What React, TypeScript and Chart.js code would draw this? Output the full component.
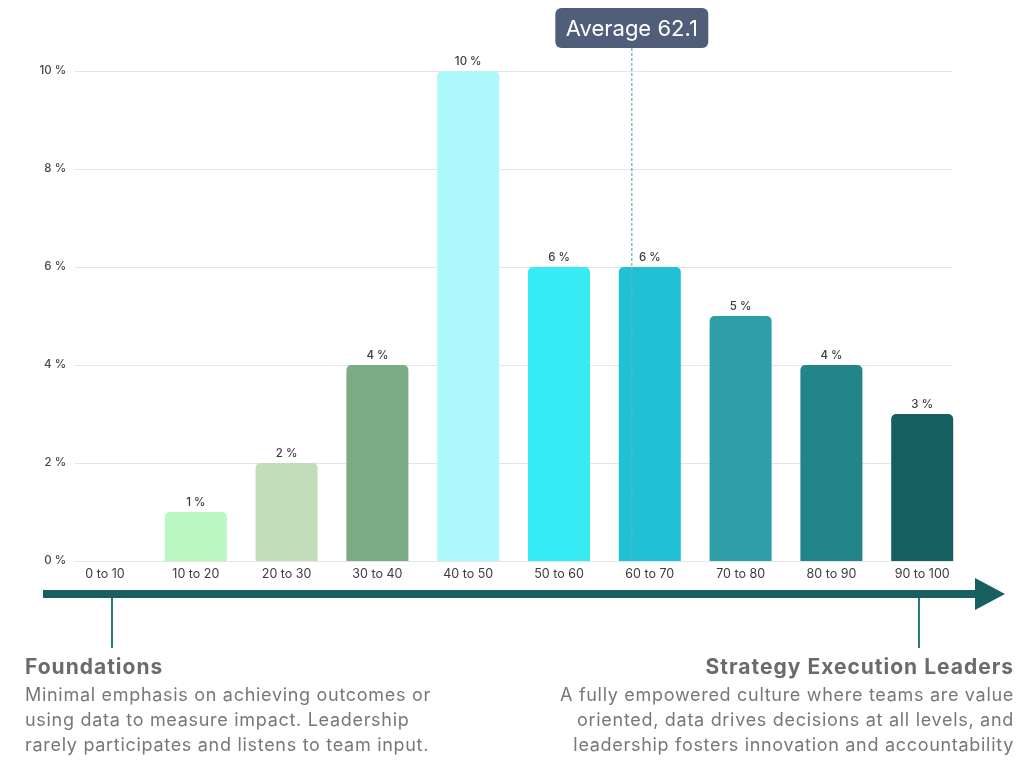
import React, { useEffect, useRef } from "react";
import { Chart, registerables } from "chart.js";

Chart.register(...registerables);

const categories = ["0 to 10", "10 to 20", "20 to 30", "30 to 40", "40 to 50", "50 to 60", "60 to 70", "70 to 80", "80 to 90", "90 to 100"];
const values = [0, 1, 2, 4, 10, 6, 6, 5, 4, 3];
const barColors = ["#b9f7c3", "#b9f7c3", "#bfdeb9", "#7bab83", "#adf8fc", "#37ebf5", "#20c1d4", "#2e9fa8", "#23858a", "#155f61"];
const yTicks = [0, 2, 4, 6, 8, 10];
const averageValue = 62.1;
const averageLabel = "Average 62.1";
const leftTitle = "Foundations";
const leftLines = ["Minimal emphasis on achieving outcomes or", "using data to measure impact. Leadership", "rarely participates and listens to team input."];
const rightTitle = "Strategy Execution Leaders";
const rightLines = ["A fully empowered culture where teams are value", "oriented, data drives decisions at all levels, and", "leadership fosters innovation and accountability"];

const FONT = "Inter, 'Open Sans', sans-serif";

const overlayPlugin = {
  id: "overlay",
  beforeDatasetsDraw(chart: any) {
    const { ctx, chartArea, scales } = chart;
    const y = scales.y;
    ctx.save();
    ctx.strokeStyle = "#e5e5e5";
    ctx.lineWidth = 1;
    yTicks.forEach((v) => {
      const py = Math.round(y.getPixelForValue(v)) + 0.5;
      ctx.beginPath();
      ctx.moveTo(chartArea.left + 15, py);
      ctx.lineTo(chartArea.right - 15, py);
      ctx.stroke();
    });
    ctx.fillStyle = "#474747";
    ctx.font = `500 11.5px ${FONT}`;
    ctx.textAlign = "right";
    ctx.textBaseline = "middle";
    yTicks.forEach((v) => {
      ctx.fillText(`${v} %`, chartArea.left + 6.5, y.getPixelForValue(v));
    });
    ctx.restore();
  },
  afterDatasetsDraw(chart: any) {
    const { ctx, chartArea, scales } = chart;
    const x = scales.x;
    const y = scales.y;
    const meta = chart.getDatasetMeta(0);
    ctx.save();
    // value labels
    ctx.fillStyle = "#3c3c3c";
    ctx.font = `500 11.5px ${FONT}`;
    ctx.textAlign = "center";
    ctx.textBaseline = "middle";
    meta.data.forEach((bar: any, i: number) => {
      if (values[i] <= 0) return;
      const p = bar.getProps(["x", "y"], true);
      ctx.fillText(`${values[i]} %`, p.x, p.y - 9);
    });
    // x labels
    ctx.fillStyle = "#3c3c3c";
    ctx.font = `400 12.5px ${FONT}`;
    categories.forEach((c, i) => {
      ctx.fillText(c, x.getPixelForValue(i), chartArea.bottom + 13);
    });
    // average line
    const idx = Math.floor(averageValue / 10);
    const frac = (averageValue - idx * 10) / 10;
    const b = meta.data[idx].getProps(["x", "width"], true);
    const ax = b.x - b.width / 2 + frac * b.width;
    const boxW = 153;
    const boxH = 40;
    const boxTop = 8;
    ctx.strokeStyle = "#5db8bf";
    ctx.lineWidth = 1.3;
    ctx.setLineDash([3, 2]);
    ctx.beginPath();
    ctx.moveTo(ax, boxTop + boxH);
    ctx.lineTo(ax, y.getPixelForValue(0));
    ctx.stroke();
    ctx.setLineDash([]);
    ctx.fillStyle = "#515e79";
    ctx.beginPath();
    (ctx as any).roundRect(ax - boxW / 2, boxTop, boxW, boxH, 6);
    ctx.fill();
    ctx.fillStyle = "#ffffff";
    ctx.font = `400 22px ${FONT}`;
    ctx.fillText(averageLabel, ax, boxTop + boxH / 2 + 1);
    // arrow
    const ay = 594;
    ctx.fillStyle = "#17605f";
    ctx.fillRect(43, ay - 4, 935, 8);
    ctx.beginPath();
    ctx.moveTo(975, ay - 16);
    ctx.lineTo(1005, ay);
    ctx.lineTo(975, ay + 16);
    ctx.closePath();
    ctx.fill();
    ctx.strokeStyle = "#2a7b7d";
    ctx.lineWidth = 2;
    [112, 919].forEach((tx) => {
      ctx.beginPath();
      ctx.moveTo(tx, ay + 4);
      ctx.lineTo(tx, 648);
      ctx.stroke();
    });
    ctx.restore();
  },
};

export default function App() {
  const ref = useRef<HTMLCanvasElement>(null);
  useEffect(() => {
    if (!ref.current) return;
    const chart = new Chart(ref.current, {
      type: "bar",
      data: {
        labels: categories,
        datasets: [
          {
            data: values,
            backgroundColor: barColors,
            borderRadius: { topLeft: 5, topRight: 5, bottomLeft: 0, bottomRight: 0 },
            borderSkipped: false,
            categoryPercentage: 1,
            barPercentage: 0.683,
          },
        ],
      },
      options: {
        responsive: false,
        animation: false,
        layout: { padding: { left: 59.6, right: 57.4, top: 71, bottom: 206 } },
        plugins: { legend: { display: false }, tooltip: { enabled: false } },
        scales: {
          x: { display: false },
          y: { display: false, min: 0, max: 10 },
        },
      },
      plugins: [overlayPlugin],
    });
    return () => chart.destroy();
  }, []);

  const titleStyle: React.CSSProperties = { fontFamily: FONT, fontWeight: 700, fontSize: 21, letterSpacing: 1, color: "#6b6b6b", lineHeight: "26px", whiteSpace: "nowrap" };
  const bodyStyle: React.CSSProperties = { fontFamily: FONT, fontWeight: 400, fontSize: 18, letterSpacing: 0.7, color: "#777777", lineHeight: "25px", whiteSpace: "nowrap" };

  return (
    <div style={{ position: "absolute", left: 0, top: 0, width: 1025, height: 767, background: "#ffffff", overflow: "hidden" }}>
      <canvas ref={ref} width={1025} height={767} style={{ position: "absolute", left: 0, top: 0, width: 1025, height: 767 }} />
      <div style={{ position: "absolute", left: 25, top: 654, textAlign: "left" }}>
        <div style={titleStyle}>{leftTitle}</div>
        <div style={{ ...bodyStyle, marginTop: 2 }}>
          {leftLines.map((l, i) => (
            <div key={i}>{l}</div>
          ))}
        </div>
      </div>
      <div style={{ position: "absolute", right: 11, top: 654, textAlign: "right" }}>
        <div style={titleStyle}>{rightTitle}</div>
        <div style={{ ...bodyStyle, marginTop: 2 }}>
          {rightLines.map((l, i) => (
            <div key={i}>{l}</div>
          ))}
        </div>
      </div>
    </div>
  );
}
